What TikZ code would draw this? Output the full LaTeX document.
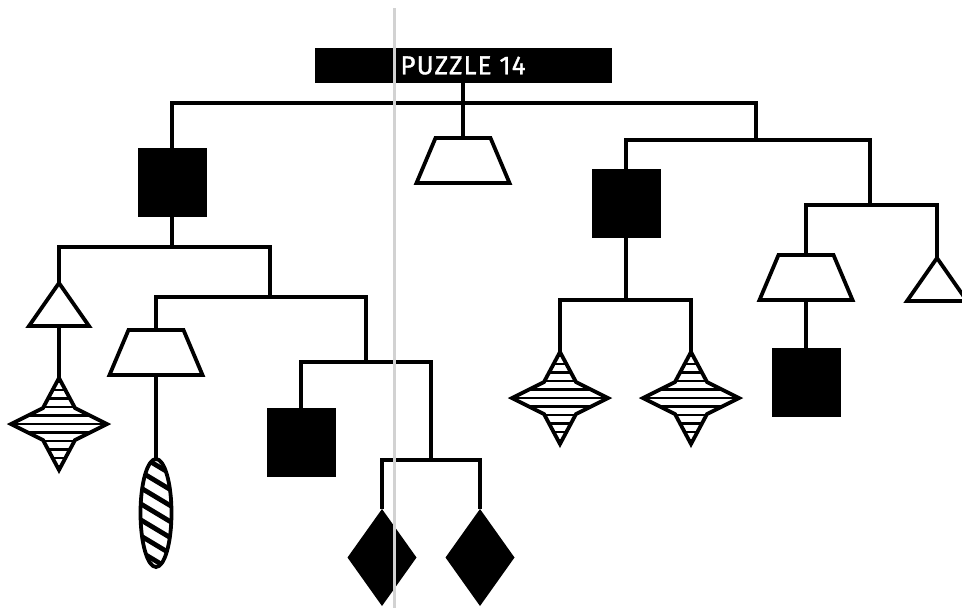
\documentclass[tikz,border=0pt]{standalone}
\usepackage{fontspec}
\newfontfamily\titlefont{Fira Sans}[LetterSpace=4,FakeBold=1.2]
\begin{document}
\begin{tikzpicture}[x=1pt,y=-1pt,
  wire/.style={line width=3.8pt, line join=miter},
  outl/.style={line width=3.8pt, line join=miter, fill=white},
  titlebox/.style={fill=black, text=white, minimum width=297pt, minimum height=35pt,
    inner sep=0pt, font=\titlefont\fontsize{26}{28}\selectfont},
  sqpic/.pic={
    \fill[black] (-34.5,0) rectangle (34.5,69);
    \coordinate (-top) at (0,0);
    \coordinate (-bot) at (0,69);
  },
  trappic/.pic={
    \draw[outl] (-27.5,0) -- (27.5,0) -- (46.5,45) -- (-46.5,45) -- cycle;
    \coordinate (-top) at (0,0);
    \coordinate (-bot) at (0,45);
  },
  tripic/.pic={
    \draw[outl] (0,0) -- (30,43) -- (-30,43) -- cycle;
    \coordinate (-top) at (0,0);
    \coordinate (-bot) at (0,43);
  },
  diapic/.pic={
    \fill[black] (0,0) -- (34.5,48.5) -- (0,97) -- (-34.5,48.5) -- cycle;
    \coordinate (-top) at (0,0);
  },
  starpic/.pic={
    \fill[white] (0,-46) -- (16,-16) -- (48,0) -- (16,16) -- (0,46) -- (-16,16) -- (-48,0) -- (-16,-16) -- cycle;
    \begin{scope}
      \clip (0,-46) -- (16,-16) -- (48,0) -- (16,16) -- (0,46) -- (-16,16) -- (-48,0) -- (-16,-16) -- cycle;
      \foreach \k in {-42.5,-34,...,45} {
        \draw[line width=2.6pt] (-50,\k) -- (50,\k);
      }
    \end{scope}
    \draw[line width=3.8pt, line join=miter] (0,-46) -- (16,-16) -- (48,0) -- (16,16) -- (0,46) -- (-16,16) -- (-48,0) -- (-16,-16) -- cycle;
    \coordinate (-top) at (0,-46);
  },
  ellpic/.pic={
    \fill[white] (0,0) ellipse [x radius=15.5, y radius=54];
    \begin{scope}
      \clip (0,0) ellipse [x radius=15.5, y radius=54];
      \foreach \k in {-80,-64,...,80} {
        \draw[line width=4.8pt] (-25,\k-15) -- (25,\k+15);
      }
    \end{scope}
    \draw[line width=3.8pt] (0,0) ellipse [x radius=15.5, y radius=54];
    \coordinate (-top) at (0,-54);
  }
]
\useasboundingbox (0,0) rectangle (962,608);

% title
\node[titlebox] (title) at (463,65.5) {PUZZLE 14};

% hang points (bar centres)
\coordinate (h0) at (463,103);
\coordinate (h1) at (756,140);
\coordinate (h2) at (870,205);
\coordinate (h3) at (626,300);
\coordinate (h4) at (172,247);
\coordinate (h5) at (270,297);
\coordinate (h6) at (366,362);
\coordinate (h7) at (431,460);

% shapes
\pic (tz0) at (463,138) {trappic};
\pic (sqA) at (172,148) {sqpic};
\pic (sqB) at (626,169) {sqpic};
\pic (triL) at (59,283) {tripic};
\pic (tzL) at (156,330) {trappic};
\pic (sqC) at (301,408) {sqpic};
\pic (dA) at (382,509) {diapic};
\pic (dB) at (480,509) {diapic};
\pic (starL) at (59,424) {starpic};
\pic (ell) at (156,513) {ellpic};
\pic (stA) at (560,398) {starpic};
\pic (stB) at (691,398) {starpic};
\pic (tzR) at (806,255) {trappic};
\pic (triR) at (937,258) {tripic};
\pic (sqD) at (806,348) {sqpic};

% connectors
\draw[wire] (title.south) -- (tz0-top);
\draw[wire] (sqA-top) |- (h0) -| (h1);
\draw[wire] (sqB-top) |- (h1) -| (h2);
\draw[wire] (tzR-top) |- (h2) -| (triR-top);
\draw[wire] (tzR-bot) -- (sqD-top);
\draw[wire] (sqB-bot) -- (h3);
\draw[wire] (stA-top) |- (h3) -| (stB-top);
\draw[wire] (sqA-bot) -- (h4);
\draw[wire] (triL-top) |- (h4) -| (h5);
\draw[wire] (triL-bot) -- (starL-top);
\draw[wire] (tzL-top) |- (h5) -| (h6);
\draw[wire] (tzL-bot) -- (ell-top);
\draw[wire] (sqC-top) |- (h6) -| (h7);
\draw[wire] (dA-top) |- (h7) -| (dB-top);

% scan gutter line
\draw[gray!35, line width=3pt] (394,8) -- (394,608);
\end{tikzpicture}
\end{document}
